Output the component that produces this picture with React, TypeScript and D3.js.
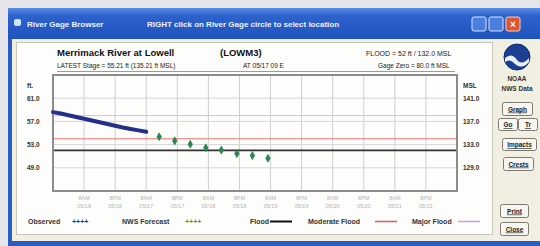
import React, { useRef, useEffect } from 'react';
import * as d3 from 'd3';

// stage readings (ft) — hours since start of plot
const observedHours = [0, 3, 6, 9, 12, 15, 18, 21, 24, 27, 30, 33, 36];
const observedStage = [58.6, 58.35, 58.05, 57.75, 57.45, 57.15, 56.85, 56.55, 56.25, 55.95, 55.7, 55.45, 55.2];
const forecastHours = [41, 47, 53, 59, 65, 71, 77, 83];
const forecastStage = [54.35, 53.65, 53.05, 52.45, 52.05, 51.45, 51.1, 50.65];

const stageTicks = [49, 53, 57, 61];
const gageZero = 80;
const floodStage = 52;
const moderateFlood = 54;
const majorFlood = 58;

const timeTicks = [12, 24, 36, 48, 60, 72, 84, 96, 108, 120, 132, 144];
const tickHours = ['8AM', '8PM', '8AM', '8PM', '8AM', '8PM', '8AM', '8PM', '8AM', '8PM', '8AM', '8PM'];
const tickDates = ['05/16', '05/16', '05/17', '05/17', '05/18', '05/18', '05/19', '05/19', '05/20', '05/20', '05/21', '05/21'];

const sideButtons = ['Graph', 'Impacts', 'Crests'];

export default function App() {
  const width = 540;
  const height = 246;
  const svgRef = useRef<SVGSVGElement>(null);

  useEffect(() => {
    if (!svgRef.current) return;
    const svg = d3.select(svgRef.current);
    svg.selectAll('*').remove();
    const font = 'Liberation Sans, Arial, sans-serif';

    // window chrome
    svg.append('rect').attr('width', width).attr('height', height).attr('fill', '#e6e6ea');
    const defs = svg.append('defs');
    const grad = defs.append('linearGradient').attr('id', 'tb').attr('x1', 0).attr('x2', 0).attr('y1', 0).attr('y2', 1);
    grad.append('stop').attr('offset', '0%').attr('stop-color', '#5a8ee6');
    grad.append('stop').attr('offset', '25%').attr('stop-color', '#2d62cc');
    grad.append('stop').attr('offset', '100%').attr('stop-color', '#1f52bd');

    svg.append('rect').attr('x', 8).attr('y', 8).attr('width', 532).attr('height', 238).attr('fill', '#2a5cc4');
    svg.append('rect').attr('x', 8).attr('y', 8).attr('width', 532).attr('height', 31).attr('fill', 'url(#tb)');
    svg.append('rect').attr('x', 12).attr('y', 39).attr('width', 528).attr('height', 202).attr('fill', '#f1efe2');

    svg.append('rect').attr('x', 14).attr('y', 19).attr('width', 7).attr('height', 7).attr('rx', 2).attr('fill', '#cfe6f7');
    svg.append('text').attr('x', 27).attr('y', 27).attr('fill', '#eef3ff').style('font', `bold 8px ${font}`)
      .text('River Gage Browser');
    svg.append('text').attr('x', 147).attr('y', 27).attr('fill', '#eef3ff').style('font', `bold 8px ${font}`)
      .text('RIGHT click on River Gage circle to select location');

    [472, 489].forEach(x => {
      svg.append('rect').attr('x', x).attr('y', 17).attr('width', 14).attr('height', 14).attr('rx', 2)
        .attr('fill', '#4a7fe0').attr('stroke', '#d8e4fa');
    });
    svg.append('rect').attr('x', 506).attr('y', 17).attr('width', 14).attr('height', 14).attr('rx', 2)
      .attr('fill', '#e0552e').attr('stroke', '#f4d0c0');
    svg.append('text').attr('x', 513).attr('y', 28).attr('text-anchor', 'middle').attr('fill', 'white')
      .style('font', `bold 10px ${font}`).text('×');

    // white chart panel
    svg.append('rect').attr('x', 16.5).attr('y', 42.5).attr('width', 476).attr('height', 192)
      .attr('fill', '#fdfdfb').attr('stroke', '#c8c6bc');

    // header
    svg.append('text').attr('x', 57).attr('y', 56).attr('fill', '#111').style('font', `bold 9.5px ${font}`)
      .text('Merrimack River at Lowell');
    svg.append('text').attr('x', 220).attr('y', 56).attr('fill', '#111').style('font', `bold 9.5px ${font}`)
      .text('(LOWM3)');
    svg.append('text').attr('x', 366).attr('y', 56).attr('fill', '#222').style('font', `7px ${font}`)
      .text('FLOOD = 52 ft / 132.0 MSL');
    svg.append('text').attr('x', 57).attr('y', 68).attr('fill', '#222').style('font', `6.5px ${font}`)
      .text('LATEST Stage = 55.21 ft (135.21 ft MSL)');
    svg.append('text').attr('x', 243).attr('y', 68).attr('fill', '#222').style('font', `6.5px ${font}`)
      .text('AT 05/17 09 E');
    svg.append('text').attr('x', 378).attr('y', 68).attr('fill', '#222').style('font', `6.5px ${font}`)
      .text('Gage Zero = 80.0 ft MSL');
    svg.append('line').attr('x1', 57).attr('x2', 455).attr('y1', 71.5).attr('y2', 71.5).attr('stroke', '#9a9a9a');

    // plot
    const x = d3.scaleLinear().domain([0, 156]).range([53, 457]);
    const y = d3.scaleLinear().domain([45, 65]).range([191, 75]);

    const grid = svg.append('g');
    grid.selectAll('line.v').data(timeTicks).enter().append('line')
      .attr('x1', d => x(d)).attr('x2', d => x(d)).attr('y1', 75).attr('y2', 191)
      .attr('stroke', '#cfcfcf');
    grid.selectAll('line.h').data(stageTicks).enter().append('line')
      .attr('x1', 53).attr('x2', 457).attr('y1', d => y(d)).attr('y2', d => y(d))
      .attr('stroke', '#d6d6d6');

    const levels = [
      { v: majorFlood, c: '#e4b8dc', w: 1 },
      { v: moderateFlood, c: '#e67070', w: 1 },
      { v: floodStage, c: '#333', w: 1.6 },
    ];
    svg.selectAll('line.lvl').data(levels).enter().append('line')
      .attr('x1', 53).attr('x2', 457).attr('y1', d => y(d.v)).attr('y2', d => y(d.v))
      .attr('stroke', d => d.c).attr('stroke-width', d => d.w);

    svg.append('rect').attr('x', 53).attr('y', 75).attr('width', 404).attr('height', 116)
      .attr('fill', 'none').attr('stroke', '#8c8c8c').attr('stroke-width', 2);

    const lineGen = d3.line<number>().x((d, i) => x(observedHours[i])).y(d => y(d));
    svg.append('path').attr('d', lineGen(observedStage)).attr('fill', 'none')
      .attr('stroke', '#22308a').attr('stroke-width', 4).attr('stroke-linecap', 'round');

    const diamond = d3.symbol().type(d3.symbolDiamond).size(24);
    svg.selectAll('path.fc').data(forecastStage).enter().append('path')
      .attr('d', diamond)
      .attr('transform', (d, i) => `translate(${x(forecastHours[i])},${y(d)})`)
      .attr('fill', '#2a8552');

    // axis labels
    svg.append('text').attr('x', 27).attr('y', 88).attr('fill', '#333').style('font', `bold 6.5px ${font}`).text('ft.');
    svg.append('text').attr('x', 463).attr('y', 88).attr('fill', '#333').style('font', `bold 6.5px ${font}`).text('MSL');
    svg.selectAll('text.yl').data(stageTicks).enter().append('text')
      .attr('x', 27).attr('y', d => y(d) + 2.5).attr('fill', '#333').style('font', `bold 6.5px ${font}`)
      .text(d => d3.format('.1f')(d));
    svg.selectAll('text.yr').data(stageTicks).enter().append('text')
      .attr('x', 463).attr('y', d => y(d) + 2.5).attr('fill', '#333').style('font', `bold 6.5px ${font}`)
      .text(d => d3.format('.1f')(d + gageZero));

    svg.selectAll('text.xh').data(timeTicks).enter().append('text')
      .attr('x', d => x(d)).attr('y', 200).attr('text-anchor', 'middle').attr('fill', '#b4b4b4')
      .style('font', `5.5px ${font}`).text((d, i) => tickHours[i]);
    svg.selectAll('text.xd').data(timeTicks).enter().append('text')
      .attr('x', d => x(d)).attr('y', 208).attr('text-anchor', 'middle').attr('fill', '#b4b4b4')
      .style('font', `5.5px ${font}`).text((d, i) => tickDates[i]);

    // legend
    const lg = svg.append('g').style('font', `bold 7px ${font}`);
    lg.append('text').attr('x', 28).attr('y', 224).attr('fill', '#333').text('Observed');
    lg.append('text').attr('x', 72).attr('y', 224).attr('fill', '#2233a0').text('++++');
    lg.append('text').attr('x', 122).attr('y', 224).attr('fill', '#333').text('NWS Forecast');
    lg.append('text').attr('x', 185).attr('y', 224).attr('fill', '#18b060').text('++++');
    lg.append('text').attr('x', 250).attr('y', 224).attr('fill', '#333').text('Flood');
    lg.append('line').attr('x1', 270).attr('x2', 292).attr('y1', 221.5).attr('y2', 221.5).attr('stroke', '#111').attr('stroke-width', 2);
    lg.append('text').attr('x', 308).attr('y', 224).attr('fill', '#333').text('Moderate Flood');
    lg.append('line').attr('x1', 375).attr('x2', 397).attr('y1', 221.5).attr('y2', 221.5).attr('stroke', '#e05a5a').attr('stroke-width', 1.5);
    lg.append('text').attr('x', 412).attr('y', 224).attr('fill', '#333').text('Major Flood');
    lg.append('line').attr('x1', 458).attr('x2', 480).attr('y1', 221.5).attr('y2', 221.5).attr('stroke', '#c9a0d8').attr('stroke-width', 1.5);

    // right side panel: logo and buttons
    svg.append('circle').attr('cx', 517).attr('cy', 57).attr('r', 13).attr('fill', '#1c3f94').attr('stroke', '#0d2a66');
    svg.append('path').attr('d', 'M505,58 Q512,52 517,60 Q522,66 529,58 L529,62 Q522,70 515,64 Q510,58 505,62 Z')
      .attr('fill', '#e8f0ff');
    svg.append('text').attr('x', 517).attr('y', 81).attr('text-anchor', 'middle').attr('fill', '#333')
      .style('font', `bold 6.5px ${font}`).text('NOAA');
    svg.append('text').attr('x', 517).attr('y', 91).attr('text-anchor', 'middle').attr('fill', '#333')
      .style('font', `bold 6.5px ${font}`).text('NWS Data');

    const btn = (bx: number, by: number, bw: number, bh: number, label: string) => {
      svg.append('rect').attr('x', bx + 0.5).attr('y', by + 0.5).attr('width', bw).attr('height', bh).attr('rx', 2)
        .attr('fill', '#f7f6f0').attr('stroke', '#7d7b70');
      svg.append('text').attr('x', bx + bw / 2 + 0.5).attr('y', by + bh / 2 + 3).attr('text-anchor', 'middle')
        .attr('fill', '#222').style('font', `bold 6.5px ${font}`).style('text-decoration', 'underline').text(label);
    };
    btn(502, 102, 30, 13, sideButtons[0]);
    btn(498, 118, 19, 12, 'Go');
    btn(518, 118, 19, 12, 'Tr');
    btn(502, 138, 34, 12, sideButtons[1]);
    btn(503, 157, 30, 13, sideButtons[2]);
    btn(500, 204, 28, 13, 'Print');
    btn(500, 222, 28, 13, 'Close');
  }, [height, width]);

  return (
    <div style={{ position: 'absolute', left: 0, top: 0 }}>
      <svg ref={svgRef} width={width} height={height} style={{ display: 'block' }} />
    </div>
  );
}
